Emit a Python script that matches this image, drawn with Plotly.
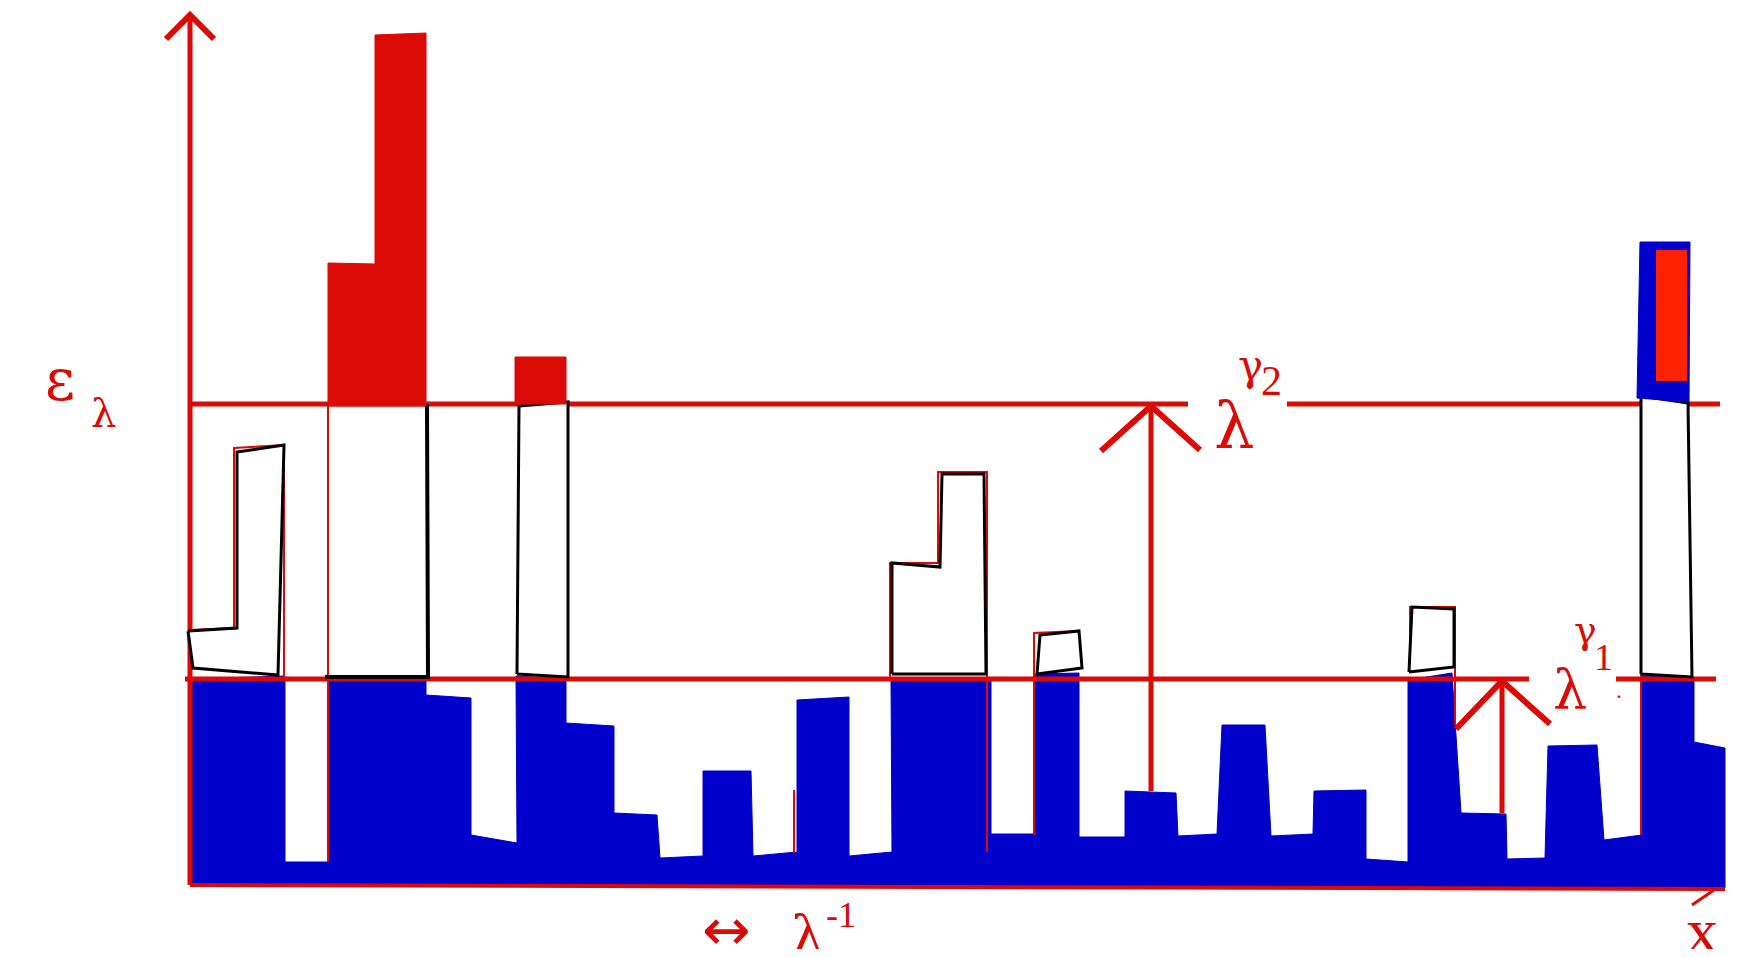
import plotly.graph_objects as go

# ---------------- data (x along the axis, h = height above the baseline) ----------------
# blue silhouette (top profile, then back along the bottom)
blue_x = [1, 95, 95, 139, 139, 236, 236, 281, 281, 327, 326, 376, 376, 424, 424, 467, 470, 513,
          513, 561, 563, 607, 607, 659, 659, 702, 701, 801, 801, 844, 844, 889, 889, 935, 935, 986,
          988, 1027, 1032, 1075, 1081, 1123, 1124, 1176, 1176, 1218, 1218, 1262, 1271, 1316, 1317,
          1355, 1358, 1407, 1414, 1452, 1452, 1504, 1504, 1535, 1535, 1]
blue_h = [206, 209, 23, 23, 207, 207, 190, 187, 50, 42, 209, 206, 162, 159, 72, 70, 27, 29,
          114, 114, 29, 33, 185, 188, 29, 33, 205, 205, 51, 51, 211, 212, 48, 48, 94, 92,
          49, 51, 160, 160, 49, 51, 94, 95, 26, 23, 205, 212, 72, 71, 26,
          27, 139, 140, 45, 50, 209, 207, 143, 137, -3, 1]

# white (outlined) boxes sitting on the silhouette
box1_x = [-2, 47, 47, 94, 88, 3]
box1_h = [254, 257, 433, 440, 210, 217]
box2_x = [135, 238, 237]            # open outline: bottom edge + right edge
box2_h = [208, 208, 481]
box3_x = [327, 329, 378, 378]
box3_h = [211, 479, 483, 208]
box4_x = [702, 702, 750, 752, 794, 796]
box4_h = [211, 322, 318, 411, 411, 211]
box5_x = [847, 850, 889, 892]
box5_h = [211, 250, 254, 217]
box6_x = [1219, 1222, 1264, 1264]
box6_h = [213, 278, 276, 218]
box7_x = [1451, 1451, 1498, 1502]
box7_h = [211, 489, 482, 208]

# red bars above the upper level
red_tall_x = [138, 138, 185, 185, 236, 236]
red_tall_h = [479, 622, 621, 850, 852, 479]
red_small_x = [325, 325, 376, 376]
red_small_h = [481, 528, 528, 481]
top_blue_x = [1447, 1450, 1500, 1499]
top_blue_h = [487, 643, 643, 483]
top_red_x = [1466, 1466, 1497, 1497]
top_red_h = [504, 635, 635, 504]

# levels
level_gamma1 = 206
level_gamma2 = 481
axis_top = 870

RED = "#dc0a06"
BLUE = "#0000cc"
BRIGHT = "#ff2200"
SERIF = "Liberation Serif"
GREEK = "DejaVu Serif"

fig = go.Figure()


def poly(xs, hs, fill=None, color=RED, width=2, closed=True):
    x = list(xs) + ([xs[0]] if closed else [])
    y = list(hs) + ([hs[0]] if closed else [])
    fig.add_trace(go.Scatter(
        x=x, y=y, mode="lines",
        fill="toself" if fill else "none",
        fillcolor=fill,
        line=dict(color=color, width=width),
        hoverinfo="skip", showlegend=False))


def seg(xs, hs, color=RED, width=5):
    poly(xs, hs, None, color, width, closed=False)


# blue silhouette
poly(blue_x, blue_h, fill=BLUE, color=BLUE, width=1)

# thin red outlines of the original bars
seg([138, 138], [481, 23], width=2)
seg([44, 44, 94, 94], [257, 437, 440, 206], width=2)
seg([0, 44], [255, 257], width=2)
seg([700, 700, 748, 748, 797, 797], [206, 322, 322, 413, 413, 33], width=2)
seg([844, 844, 889], [50, 252, 254], width=2)
seg([604, 604], [32, 95], width=2)
seg([1220, 1220, 1265, 1265], [213, 278, 278, 160], width=2)
seg([1451, 1451], [483, 50], width=2)

# axes and levels
seg([0, 0], [0, axis_top], width=5)
seg([-24, 0, 24], [846, axis_top, 846], width=6)
seg([0, 1535], [0, -4], width=4)
seg([1502, 1524], [-20, -5], width=3)
seg([0, 998], [level_gamma2, level_gamma2], width=5)
seg([1097, 1530], [level_gamma2, level_gamma2], width=5)
seg([-5, 1339], [level_gamma1, level_gamma1], width=5)
seg([1426, 1526], [level_gamma1, level_gamma1], width=5)

# white boxes
for bx, bh in [(box1_x, box1_h), (box3_x, box3_h), (box4_x, box4_h),
               (box5_x, box5_h), (box6_x, box6_h), (box7_x, box7_h)]:
    poly(bx, bh, fill="white", color="black", width=3)
seg(box2_x, box2_h, color="black", width=4)

# red bars
poly(red_tall_x, red_tall_h, fill=RED, color=RED, width=1)
poly(red_small_x, red_small_h, fill=RED, color=RED, width=1)
poly(top_blue_x, top_blue_h, fill=BLUE, color=BLUE, width=1)
poly(top_red_x, top_red_h, fill=BRIGHT, color=BRIGHT, width=0)

# arrows
seg([961, 961], [94, level_gamma2], width=5)
seg([911, 961, 1010], [434, 479, 435], width=6)
seg([1312, 1312], [72, level_gamma1], width=5)
seg([1266, 1312, 1360], [156, 204, 161], width=6)


# labels
def label(x, h, text, size, family=SERIF):
    fig.add_annotation(x=x, y=h, text=text, showarrow=False, xanchor="center", yanchor="middle",
                       font=dict(family=family, size=size, color=RED))


label(-130, 505, "ε", 58, GREEK)
label(-87, 472, "λ", 40, GREEK)
label(1044, 460, "λ", 64, GREEK)
label(1060, 520, "γ", 42, GREEK)
label(1081, 504, "2", 42)
label(1380, 196, "λ", 54, GREEK)
label(1395, 255, "γ", 38, GREEK)
label(1413, 228, "1", 38)
label(1429, 195, ".", 24)
label(536, -45, "↔", 58, "DejaVu Sans")
label(617, -50, "λ", 52, GREEK)
label(651, -30, "-1", 36)
label(1512, -45, "x", 64)

fig.update_layout(
    width=1726, height=941,
    margin=dict(l=0, r=0, t=0, b=0),
    paper_bgcolor="white", plot_bgcolor="white",
    xaxis=dict(range=[-182, 1544], visible=False, fixedrange=True),
    yaxis=dict(range=[-64, 877], visible=False, fixedrange=True),
    showlegend=False,
)

fig.write_html("out.html")
